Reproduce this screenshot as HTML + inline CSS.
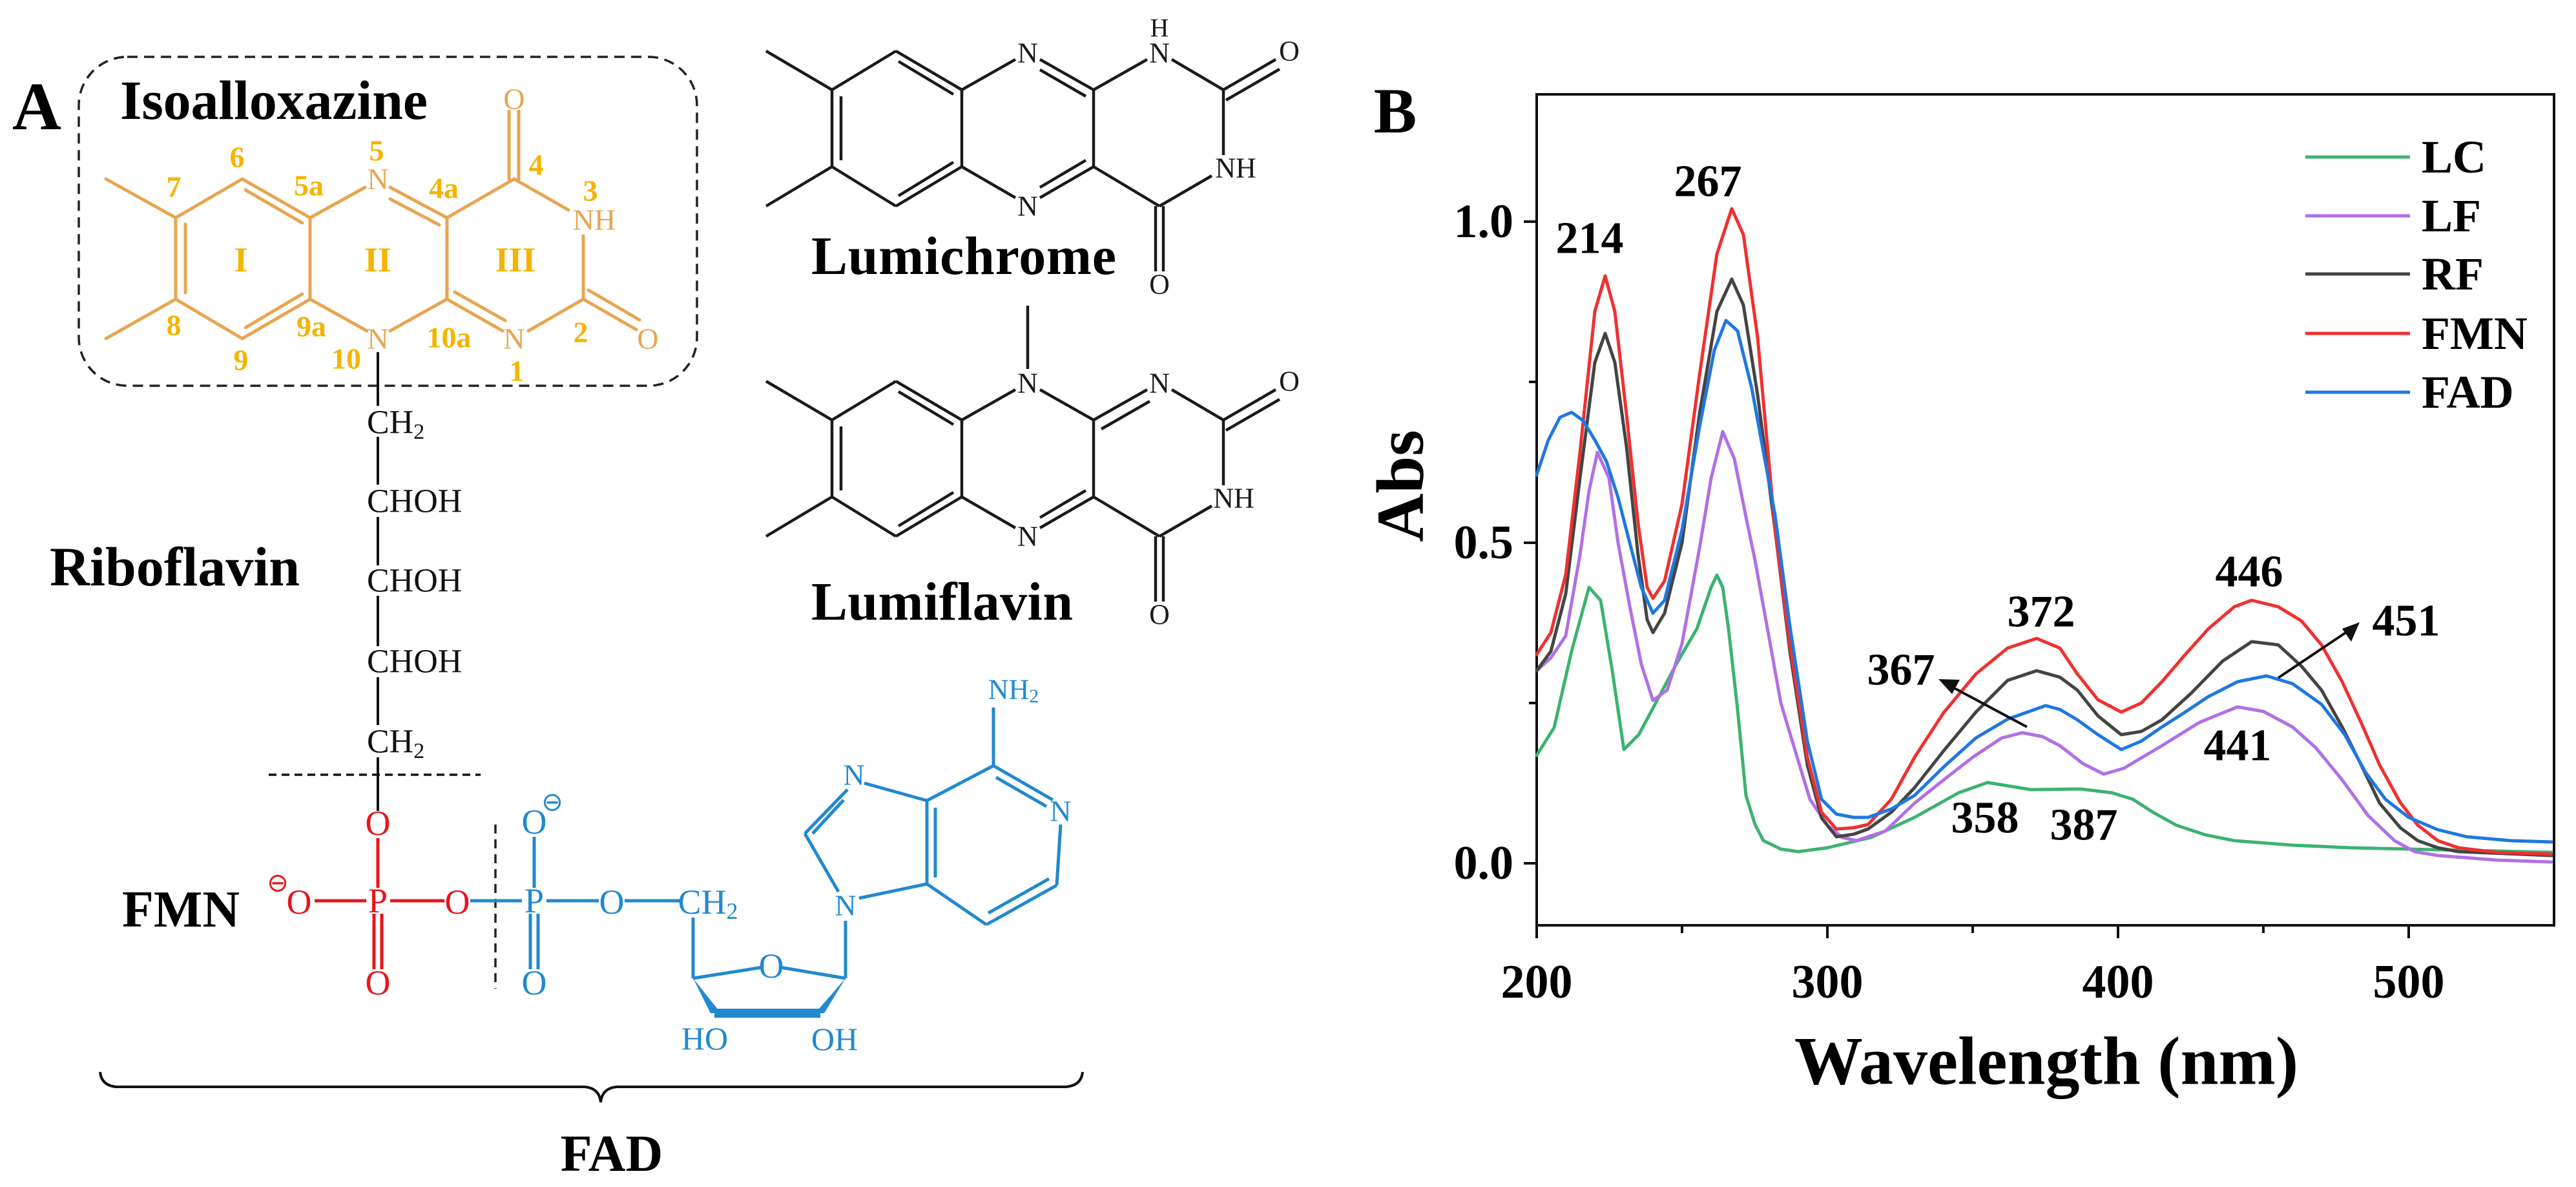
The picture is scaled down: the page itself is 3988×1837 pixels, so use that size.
<!DOCTYPE html>
<html><head><meta charset="utf-8"><style>
html,body{margin:0;padding:0;background:#fff;}
svg{display:block;}
text{font-family:"Liberation Serif",serif;}
.b{font-weight:bold;}
</style></head><body>
<svg width="3988" height="1837" viewBox="0 0 3988 1837" xmlns="http://www.w3.org/2000/svg">
<!-- Panel A -->
<text x="19" y="200" class="b" font-size="105">A</text>
<rect x="122" y="88" width="957" height="509" rx="75" fill="none" stroke="#222" stroke-width="3.5" stroke-dasharray="16,10"/>
<text x="186" y="184" class="b" font-size="86" textLength="476">Isoalloxazine</text>

<g stroke="#E8A550" stroke-width="5" fill="none" stroke-linecap="round">
<line x1="164" y1="277" x2="272" y2="337"/>
<line x1="164" y1="524" x2="272" y2="463"/>
<line x1="272" y1="337" x2="272" y2="463"/>
<line x1="287" y1="347" x2="287" y2="453"/>
<line x1="272" y1="337" x2="375" y2="277"/>
<line x1="375" y1="277" x2="480" y2="337"/>
<line x1="380" y1="294" x2="468" y2="345"/>
<line x1="480" y1="337" x2="480" y2="463"/>
<line x1="272" y1="463" x2="375" y2="524"/>
<line x1="375" y1="524" x2="480" y2="463"/>
<line x1="380" y1="507" x2="468" y2="455"/>
<line x1="480" y1="337" x2="565" y2="290"/>
<line x1="604" y1="290" x2="692" y2="337"/>
<line x1="604" y1="308" x2="680" y2="348"/>
<line x1="480" y1="463" x2="568" y2="512"/>
<line x1="604" y1="512" x2="692" y2="463"/>
<line x1="692" y1="337" x2="692" y2="463"/>
<line x1="692" y1="337" x2="796" y2="277"/>
<line x1="796" y1="277" x2="880" y2="325"/>
<line x1="903" y1="365" x2="903" y2="463"/>
<line x1="903" y1="463" x2="818" y2="512"/>
<line x1="692" y1="463" x2="778" y2="512"/>
<line x1="704" y1="452" x2="782" y2="496"/>
<line x1="788" y1="277" x2="788" y2="172"/>
<line x1="803" y1="277" x2="803" y2="172"/>
<line x1="903" y1="463" x2="985" y2="510"/>
<line x1="911" y1="449" x2="990" y2="495"/>
</g>
<g fill="#E8A550" font-size="46" text-anchor="middle" dominant-baseline="central">
<text x="585" y="277">N</text><text x="585" y="524">N</text><text x="796" y="524">N</text>
<text x="920" y="340">NH</text><text x="796" y="153">O</text><text x="1003" y="524">O</text>
</g>
<g fill="#F5B400" font-size="46" class="b" text-anchor="middle" dominant-baseline="central">
<text x="373" y="402" font-size="54">I</text><text x="585" y="402" font-size="54">II</text><text x="798" y="402" font-size="54">III</text>
<text x="367" y="243">6</text><text x="269" y="289">7</text><text x="478" y="287">5a</text><text x="583" y="233">5</text>
<text x="687" y="291">4a</text><text x="830" y="255">4</text><text x="914" y="295">3</text>
<text x="269" y="503">8</text><text x="482" y="505">9a</text><text x="373" y="557">9</text><text x="536" y="555">10</text>
<text x="695" y="522">10a</text><text x="899" y="514">2</text><text x="800" y="574">1</text>
</g>

<!-- chain -->
<g stroke="#111" stroke-width="4">
<line x1="585" y1="545" x2="585" y2="628"/>
<line x1="585" y1="676" x2="585" y2="750"/>
<line x1="585" y1="800" x2="585" y2="875"/>
<line x1="585" y1="922" x2="585" y2="1000"/>
<line x1="585" y1="1048" x2="585" y2="1122"/>
<line x1="585" y1="1172" x2="585" y2="1255"/>
<line x1="416" y1="1199" x2="744" y2="1199" stroke-dasharray="12,8" stroke-width="3.5"/>
</g>
<g font-size="52" fill="#111" dominant-baseline="central">
<text x="568" y="654">CH<tspan font-size="34" dy="14">2</tspan></text>
<text x="568" y="776">CHOH</text>
<text x="568" y="899">CHOH</text>
<text x="568" y="1024">CHOH</text>
<text x="568" y="1148">CH<tspan font-size="34" dy="14">2</tspan></text>
</g>
<text x="77" y="906" class="b" font-size="86">Riboflavin</text>
<text x="189" y="1434" class="b" font-size="80">FMN</text>

<!-- phosphates -->
<g stroke="#E8141B" stroke-width="5">
<line x1="487" y1="1394" x2="567" y2="1394"/>
<line x1="604" y1="1394" x2="688" y2="1394"/>
<line x1="585" y1="1297" x2="585" y2="1374"/>
<line x1="579" y1="1414" x2="579" y2="1500"/>
<line x1="591" y1="1414" x2="591" y2="1500"/>
</g>
<g fill="#E8141B" font-size="54" text-anchor="middle" dominant-baseline="central">
<text x="463" y="1396">O</text><text x="585" y="1394">P</text><text x="708" y="1396">O</text>
<text x="585" y="1274">O</text><text x="585" y="1521">O</text>
<text x="430" y="1366" font-size="40">⊖</text>
</g>
<line x1="767" y1="1276" x2="767" y2="1530" stroke="#222" stroke-width="3.5" stroke-dasharray="14,9"/>
<g stroke="#2189CF" stroke-width="5" fill="none">
<line x1="728" y1="1394" x2="808" y2="1394"/>
<line x1="846" y1="1394" x2="927" y2="1394"/>
<line x1="967" y1="1394" x2="1055" y2="1394"/>
<line x1="827" y1="1295" x2="827" y2="1374"/>
<line x1="821" y1="1414" x2="821" y2="1500"/>
<line x1="833" y1="1414" x2="833" y2="1500"/>
<line x1="1073" y1="1420" x2="1073" y2="1514"/>
<line x1="1073" y1="1514" x2="1180" y2="1497"/>
<line x1="1208" y1="1497" x2="1309" y2="1514"/>
<line x1="1309" y1="1514" x2="1309" y2="1425"/>
<line x1="1330" y1="1390" x2="1435" y2="1368"/>
<line x1="1435" y1="1368" x2="1435" y2="1239"/>
<line x1="1448" y1="1358" x2="1448" y2="1250"/>
<line x1="1435" y1="1239" x2="1338" y2="1212"/>
<line x1="1435" y1="1239" x2="1538" y2="1185"/>
<line x1="1538" y1="1185" x2="1630" y2="1238"/>
<line x1="1542" y1="1203" x2="1620" y2="1248"/>
<line x1="1642" y1="1276" x2="1636" y2="1370"/>
<line x1="1636" y1="1370" x2="1527" y2="1431"/>
<line x1="1624" y1="1360" x2="1530" y2="1413"/>
<line x1="1527" y1="1431" x2="1435" y2="1368"/>
<line x1="1312" y1="1222" x2="1246" y2="1290"/>
<line x1="1306" y1="1238" x2="1258" y2="1290"/>
<line x1="1246" y1="1290" x2="1298" y2="1380"/>
<line x1="1538" y1="1185" x2="1538" y2="1095"/>
</g>
<polygon points="1073,1514 1100,1568 1116,1568" fill="#2189CF"/>
<polygon points="1309,1514 1262,1568 1276,1568" fill="#2189CF"/>
<line x1="1106" y1="1568" x2="1270" y2="1568" stroke="#2189CF" stroke-width="14"/>
<g fill="#2189CF" font-size="54" text-anchor="middle" dominant-baseline="central">
<text x="827" y="1394">P</text><text x="947" y="1396">O</text>
<text x="827" y="1272">O</text><text x="827" y="1521">O</text>
<text x="855" y="1241" font-size="40">⊖</text>
<text x="1096" y="1396">CH<tspan font-size="36" dy="14">2</tspan></text>
<text x="1194" y="1495">O</text>
<text x="1091" y="1607" font-size="50">HO</text>
<text x="1292" y="1608" font-size="50">OH</text>
<text x="1309" y="1401" font-size="46">N</text>
<text x="1322" y="1199" font-size="46">N</text>
<text x="1642" y="1255" font-size="46">N</text>
<text x="1569" y="1067" font-size="44">NH<tspan font-size="30" dy="10">2</tspan></text>
</g>

<!-- brace -->
<path d="M155,1659 Q157,1680 180,1682 L905,1682 Q928,1684 930,1706 Q932,1684 955,1682 L1650,1682 Q1674,1680 1676,1659" fill="none" stroke="#111" stroke-width="4"/>
<text x="947" y="1812" class="b" font-size="80" text-anchor="middle">FAD</text>

<!-- Lumichrome -->
<g stroke="#1a1a1a" stroke-width="4.5" fill="none">
<line x1="1186" y1="79" x2="1288" y2="139"/>
<line x1="1186" y1="319" x2="1288" y2="258"/>
<line x1="1288" y1="139" x2="1288" y2="258"/>
<line x1="1302" y1="149" x2="1302" y2="248"/>
<line x1="1288" y1="139" x2="1387" y2="79"/>
<line x1="1387" y1="79" x2="1489" y2="139"/>
<line x1="1391" y1="95" x2="1476" y2="146"/>
<line x1="1288" y1="258" x2="1387" y2="319"/>
<line x1="1387" y1="319" x2="1489" y2="258"/>
<line x1="1391" y1="303" x2="1476" y2="251"/>
<line x1="1489" y1="139" x2="1489" y2="258"/>
<line x1="1489" y1="139" x2="1572" y2="92"/>
<line x1="1610" y1="92" x2="1693" y2="139"/>
<line x1="1610" y1="108" x2="1681" y2="149"/>
<line x1="1489" y1="258" x2="1572" y2="306"/>
<line x1="1610" y1="306" x2="1693" y2="258"/>
<line x1="1610" y1="290" x2="1681" y2="248"/>
<line x1="1693" y1="139" x2="1693" y2="258"/>
<line x1="1693" y1="139" x2="1776" y2="92"/>
<line x1="1814" y1="92" x2="1894" y2="139"/>
<line x1="1894" y1="139" x2="1975" y2="92"/>
<line x1="1898" y1="155" x2="1981" y2="107"/>
<line x1="1894" y1="139" x2="1894" y2="240"/>
<line x1="1693" y1="258" x2="1795" y2="319"/>
<line x1="1795" y1="319" x2="1876" y2="272"/>
<line x1="1789" y1="319" x2="1789" y2="420"/>
<line x1="1801" y1="319" x2="1801" y2="420"/>
</g>
<g fill="#1a1a1a" font-size="44" text-anchor="middle" dominant-baseline="central">
<text x="1591" y="82">N</text><text x="1591" y="319">N</text><text x="1795" y="82">N</text>
<text x="1795" y="43" font-size="40">H</text><text x="1913" y="260">NH</text>
<text x="1996" y="79">O</text><text x="1795" y="440">O</text>
</g>
<text x="1256" y="424" class="b" font-size="84" textLength="472">Lumichrome</text>

<!-- Lumiflavin -->
<g stroke="#1a1a1a" stroke-width="4.5" fill="none" transform="translate(0,511)">
<line x1="1186" y1="79" x2="1288" y2="139"/>
<line x1="1186" y1="319" x2="1288" y2="258"/>
<line x1="1288" y1="139" x2="1288" y2="258"/>
<line x1="1302" y1="149" x2="1302" y2="248"/>
<line x1="1288" y1="139" x2="1387" y2="79"/>
<line x1="1387" y1="79" x2="1489" y2="139"/>
<line x1="1391" y1="95" x2="1476" y2="146"/>
<line x1="1288" y1="258" x2="1387" y2="319"/>
<line x1="1387" y1="319" x2="1489" y2="258"/>
<line x1="1391" y1="303" x2="1476" y2="251"/>
<line x1="1489" y1="139" x2="1489" y2="258"/>
<line x1="1489" y1="139" x2="1572" y2="92"/>
<line x1="1610" y1="92" x2="1693" y2="139"/>
<line x1="1489" y1="258" x2="1572" y2="306"/>
<line x1="1610" y1="306" x2="1693" y2="258"/>
<line x1="1610" y1="290" x2="1681" y2="248"/>
<line x1="1693" y1="139" x2="1693" y2="258"/>
<line x1="1693" y1="139" x2="1776" y2="92"/>
<line x1="1705" y1="153" x2="1780" y2="110"/>
<line x1="1814" y1="92" x2="1894" y2="139"/>
<line x1="1894" y1="139" x2="1975" y2="92"/>
<line x1="1898" y1="155" x2="1981" y2="107"/>
<line x1="1894" y1="139" x2="1894" y2="240"/>
<line x1="1693" y1="258" x2="1795" y2="319"/>
<line x1="1795" y1="319" x2="1876" y2="272"/>
<line x1="1789" y1="319" x2="1789" y2="420"/>
<line x1="1801" y1="319" x2="1801" y2="420"/>
<line x1="1591" y1="-38" x2="1591" y2="60"/>
</g>
<g fill="#1a1a1a" font-size="44" text-anchor="middle" dominant-baseline="central" transform="translate(0,511)">
<text x="1591" y="82">N</text><text x="1591" y="319">N</text><text x="1795" y="82">N</text>
<text x="1910" y="260">NH</text>
<text x="1996" y="79">O</text><text x="1795" y="440">O</text>
</g>
<text x="1256" y="959" class="b" font-size="84" textLength="405">Lumiflavin</text>

<!-- Panel B -->
<text x="2160" y="205" class="b" font-size="100" text-anchor="middle">B</text>
<rect x="2379" y="146" width="1575" height="1286" fill="none" stroke="#111" stroke-width="4"/>
<g stroke="#111" stroke-width="4">
<line x1="2379" y1="1432" x2="2379" y2="1452"/><line x1="2829" y1="1432" x2="2829" y2="1452"/>
<line x1="3279" y1="1432" x2="3279" y2="1452"/><line x1="3729" y1="1432" x2="3729" y2="1452"/>
<line x1="2604" y1="1432" x2="2604" y2="1444"/><line x1="3054" y1="1432" x2="3054" y2="1444"/>
<line x1="3504" y1="1432" x2="3504" y2="1444"/>
<line x1="2359" y1="1336" x2="2379" y2="1336"/><line x1="2359" y1="840" x2="2379" y2="840"/>
<line x1="2359" y1="343" x2="2379" y2="343"/>
<line x1="2367" y1="1088" x2="2379" y2="1088"/><line x1="2367" y1="591" x2="2379" y2="591"/>
</g>
<g class="b" font-size="74" text-anchor="middle" dominant-baseline="central">
<text x="2379" y="1520">200</text><text x="2829" y="1520">300</text><text x="3279" y="1520">400</text><text x="3729" y="1520">500</text>
</g>
<g class="b" font-size="74" text-anchor="end" dominant-baseline="central">
<text x="2343" y="1336">0.0</text><text x="2343" y="840">0.5</text><text x="2343" y="343">1.0</text>
</g>
<text class="b" font-size="104" text-anchor="middle" dominant-baseline="central" transform="translate(2168,752) rotate(-90)">Abs</text>
<text x="3168" y="1642" class="b" font-size="106" text-anchor="middle" dominant-baseline="central">Wavelength (nm)</text>

<g fill="none" stroke-width="5" stroke-linejoin="round" stroke-linecap="round">
<polyline stroke="#3CB371" points="2379,1169 2406,1126 2433,1008 2460,909 2478,929 2496,1038 2514,1160 2537,1137 2559,1096 2595,1028 2627,973 2649,909 2658,890 2667,909 2676,973 2690,1098 2703,1231 2717,1276 2730,1301 2757,1314 2784,1318 2829,1312 2897,1296 2964,1265 3032,1227 3077,1211 3144,1222 3221,1221 3270,1227 3302,1237 3333,1257 3369,1277 3414,1292 3459,1301 3549,1308 3639,1312 3819,1316 3950,1319"/>
<polyline stroke="#B070E6" points="2379,1038 2401,1018 2424,984 2446,859 2460,760 2473,700 2491,740 2505,840 2523,938 2541,1028 2559,1084 2581,1068 2604,996 2631,849 2649,740 2667,668 2685,710 2703,800 2717,867 2739,988 2757,1088 2775,1148 2802,1237 2829,1277 2852,1296 2874,1301 2919,1286 2964,1243 3009,1207 3054,1172 3099,1142 3131,1134 3162,1140 3189,1154 3225,1182 3257,1198 3288,1189 3347,1154 3405,1118 3464,1094 3504,1101 3549,1125 3585,1157 3626,1207 3666,1262 3707,1301 3738,1318 3774,1324 3864,1331 3950,1334"/>
<polyline stroke="#444444" points="2379,1038 2401,1008 2424,919 2446,740 2469,561 2485,516 2500,561 2518,691 2536,859 2550,959 2559,979 2577,949 2604,840 2631,641 2658,482 2681,432 2699,472 2721,611 2748,820 2771,1008 2798,1184 2820,1266 2843,1295 2870,1291 2892,1283 2928,1257 2964,1219 3009,1162 3059,1102 3108,1053 3153,1038 3189,1048 3216,1068 3248,1108 3284,1137 3315,1132 3347,1114 3392,1073 3441,1023 3486,993 3527,998 3563,1031 3594,1068 3626,1125 3657,1187 3684,1243 3716,1281 3743,1301 3774,1312 3806,1318 3950,1324"/>
<polyline stroke="#F03030" points="2379,1013 2401,979 2424,889 2446,700 2469,482 2485,427 2500,482 2518,641 2536,810 2550,909 2559,926 2577,899 2604,780 2631,581 2658,393 2681,323 2699,363 2721,522 2748,820 2771,998 2798,1172 2820,1257 2843,1283 2870,1281 2892,1276 2928,1237 2964,1172 3009,1103 3059,1043 3108,1003 3153,988 3189,1003 3216,1043 3248,1083 3284,1102 3315,1088 3347,1055 3383,1013 3419,973 3459,939 3486,929 3527,939 3563,961 3594,998 3626,1055 3657,1122 3684,1184 3716,1242 3743,1277 3774,1301 3806,1312 3864,1319 3950,1322"/>
<polyline stroke="#1F78E0" points="2379,735 2397,681 2415,646 2433,638 2451,651 2469,681 2487,714 2505,770 2523,840 2541,909 2559,949 2577,929 2604,820 2631,661 2654,542 2672,496 2690,512 2712,601 2748,797 2771,969 2798,1147 2820,1237 2843,1260 2870,1265 2892,1265 2928,1252 2964,1231 3009,1187 3059,1142 3108,1113 3167,1092 3189,1098 3216,1114 3248,1137 3284,1160 3315,1147 3347,1125 3383,1102 3419,1078 3464,1055 3509,1046 3549,1058 3594,1090 3630,1137 3662,1195 3693,1237 3729,1265 3774,1284 3819,1295 3887,1301 3950,1303"/>
</g>

<!-- legend -->
<g stroke-width="5">
<line x1="3569" y1="243" x2="3731" y2="243" stroke="#3CB371"/>
<line x1="3569" y1="334" x2="3731" y2="334" stroke="#B070E6"/>
<line x1="3569" y1="424" x2="3731" y2="424" stroke="#444"/>
<line x1="3569" y1="516" x2="3731" y2="516" stroke="#F03030"/>
<line x1="3569" y1="607" x2="3731" y2="607" stroke="#1F78E0"/>
</g>
<g class="b" font-size="72" dominant-baseline="central">
<text x="3749" y="243">LC</text><text x="3749" y="334">LF</text><text x="3749" y="424">RF</text>
<text x="3749" y="516">FMN</text><text x="3749" y="607">FAD</text>
</g>
<g class="b" font-size="70" text-anchor="middle" dominant-baseline="central">
<text x="2461" y="369">214</text><text x="2644" y="281">267</text><text x="3160" y="947">372</text>
<text x="3482" y="885">446</text><text x="3725" y="961">451</text><text x="2943" y="1037">367</text>
<text x="3464" y="1154">441</text><text x="3073" y="1266">358</text><text x="3226" y="1277">387</text>
</g>
<g stroke="#111" stroke-width="4">
<line x1="3138" y1="1125" x2="3020" y2="1062"/>
<line x1="3527" y1="1049" x2="3636" y2="976"/>
</g>
<polygon points="3001,1051 3034,1052 3022,1074" fill="#111"/>
<polygon points="3653,963 3640,993 3626,973" fill="#111"/>
</svg>
</body></html>
